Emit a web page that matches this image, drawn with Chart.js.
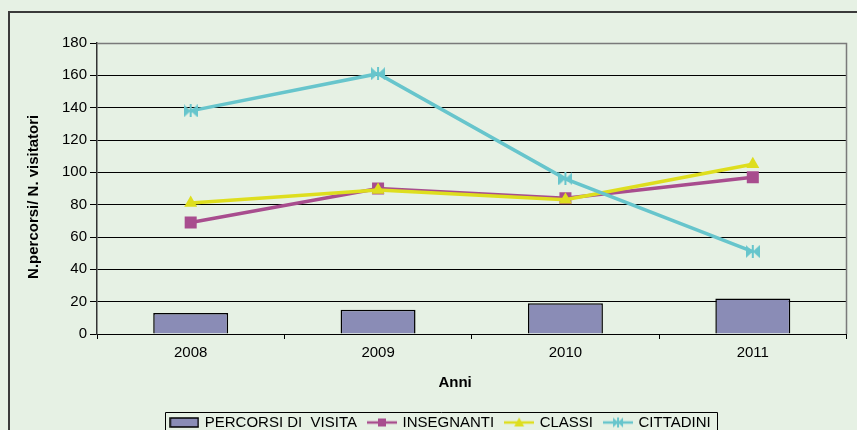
<!DOCTYPE html>
<html>
<head>
<meta charset="utf-8">
<script src="https://cdn.jsdelivr.net/npm/chart.js@4/dist/chart.umd.min.js"></script>
<style>
  html, body { margin: 0; padding: 0; background: #E6F1E4; }
  #wrap { position: relative; width: 857px; height: 430px; }
</style>
</head>
<body>
<div id="wrap"><canvas id="c" width="857" height="430"></canvas></div>
<script>
// ---- data ----
const categories = ['2008', '2009', '2010', '2011'];
const percorsiDiVisita = [13, 15, 19, 22];
const insegnanti = [69, 90, 84, 97];
const classi = [81, 89, 83, 105];
const cittadini = [138, 161, 96, 51];
const seriesLabels = ['PERCORSI DI  VISITA', 'INSEGNANTI', 'CLASSI', 'CITTADINI'];
const yTicks = [0, 20, 40, 60, 80, 100, 120, 140, 160, 180];
const yTitle = 'N.percorsi/ N. visitatori';
const xTitle = 'Anni';

// ---- styles ----
const BG = '#E6F1E4';
const C_BAR = '#8A8CB6';
const C_INS = '#A84D8E';
const C_CLA = '#DEDE1E';
const C_CIT = '#67C5CC';
const FONT = "'Liberation Sans', Arial, sans-serif";

function bowtie(color, w, h) {
  const c = document.createElement('canvas');
  c.width = w; c.height = h;
  const g = c.getContext('2d');
  g.fillStyle = color;
  g.beginPath(); g.moveTo(0, 0); g.lineTo(w / 2, h / 2); g.lineTo(0, h); g.closePath(); g.fill();
  g.beginPath(); g.moveTo(w, 0); g.lineTo(w / 2, h / 2); g.lineTo(w, h); g.closePath(); g.fill();
  g.fillRect(w / 2 - 1, 0, 2, h);
  return c;
}
function legendBar() {
  const c = document.createElement('canvas');
  c.width = 30; c.height = 11;
  const g = c.getContext('2d');
  g.fillStyle = C_BAR; g.fillRect(1, 1, 28, 9);
  g.strokeStyle = '#000'; g.lineWidth = 1.5; g.strokeRect(1, 1, 28, 9);
  return c;
}
function legendLine(color, marker) {
  const c = document.createElement('canvas');
  c.width = 30; c.height = 12;
  const g = c.getContext('2d');
  g.strokeStyle = color; g.fillStyle = color; g.lineWidth = 2.5;
  g.beginPath(); g.moveTo(0, 6); g.lineTo(30, 6); g.stroke();
  if (marker === 'rect') { g.fillRect(11, 2, 8, 8); }
  else if (marker === 'tri') { g.beginPath(); g.moveTo(15, 1); g.lineTo(20, 10); g.lineTo(10, 10); g.closePath(); g.fill(); }
  else { g.drawImage(bowtie(color, 10, 10), 10, 1); }
  return c;
}
const legendImgs = [legendBar(), legendLine(C_INS, 'rect'), legendLine(C_CLA, 'tri'), legendLine(C_CIT, 'bow')];

const framePlugin = {
  id: 'frame',
  beforeDraw(chart) {
    const ctx = chart.ctx;
    ctx.save();
    ctx.fillStyle = BG;
    ctx.fillRect(0, 0, chart.width, chart.height);
    ctx.strokeStyle = '#3a3a3a';
    ctx.lineWidth = 2;
    ctx.beginPath();
    ctx.moveTo(9, chart.height); ctx.lineTo(9, 12); ctx.lineTo(chart.width, 12);
    ctx.stroke();
    ctx.restore();
  },
  afterDatasetsDraw(chart) {
  },
  afterDraw(chart) {
    const ctx = chart.ctx, a = chart.chartArea;
    ctx.save();
    ctx.strokeStyle = '#7a7a7a';
    ctx.lineWidth = 1.5;
    ctx.beginPath();
    ctx.moveTo(a.left, a.top + 0.5); ctx.lineTo(a.right, a.top + 0.5); ctx.lineTo(a.right, a.bottom);
    ctx.stroke();
    // legend frame
    const hb = chart.legend.legendHitBoxes;
    if (hb && hb.length) {
      const first = hb[0], last = hb[hb.length - 1];
      const l = Math.round(first.left - 6) + 0.5;
      const r = Math.round(last.left + last.width + 6) + 0.5;
      const t = Math.round(first.top + first.height / 2 - 11) + 0.5;
      ctx.strokeStyle = '#000';
      ctx.lineWidth = 1;
      ctx.beginPath();
      ctx.moveTo(l, chart.height + 5); ctx.lineTo(l, t); ctx.lineTo(r, t); ctx.lineTo(r, chart.height + 5);
      ctx.stroke();
    }
    ctx.restore();
  }
};

new Chart(document.getElementById('c'), {
  type: 'bar',
  data: {
    labels: categories,
    datasets: [
      { type: 'bar', label: seriesLabels[0], data: percorsiDiVisita, backgroundColor: C_BAR,
        borderColor: '#000', borderWidth: 1.5, barPercentage: 0.4, categoryPercentage: 1, order: 4 },
      { type: 'line', label: seriesLabels[1], data: insegnanti, borderColor: C_INS, backgroundColor: C_INS,
        borderWidth: 3.5, pointStyle: 'rect', pointRadius: 8.5, pointBorderWidth: 0, tension: 0, order: 3 },
      { type: 'line', label: seriesLabels[2], data: classi, borderColor: C_CLA, backgroundColor: C_CLA,
        borderWidth: 3.5, pointStyle: 'triangle', pointRadius: 7.5, pointBorderWidth: 0, tension: 0, order: 2 },
      { type: 'line', label: seriesLabels[3], data: cittadini, borderColor: C_CIT, backgroundColor: C_CIT,
        borderWidth: 3.5, pointStyle: bowtie(C_CIT, 14, 13), pointRadius: 7, tension: 0, order: 1 }
    ]
  },
  options: {
    responsive: false,
    animation: false,
    events: [],
    layout: { padding: { left: 35, right: 10, top: 43, bottom: -10 } },
    scales: {
      x: {
        type: 'category',
        offset: true,
        grid: { offset: true, drawOnChartArea: false, drawTicks: true, tickLength: 5, color: '#000', tickColor: '#000' },
        border: { display: true, color: '#000', width: 1 },
        ticks: { color: '#000', font: { family: FONT, size: 15 }, padding: 5, maxRotation: 0 },
        title: { display: true, text: xTitle + '\u00a0\u00a0\u00a0\u00a0\u00a0\u00a0\u00a0\u00a0', color: '#000',
                 font: { family: FONT, size: 15, weight: 'bold' }, padding: { top: 0, bottom: 11 } },
        afterFit(scale) { scale.height = 69; }
      },
      y: {
        min: 0, max: 180,
        afterBuildTicks(scale) { scale.ticks = yTicks.map(v => ({ value: v })); },
        grid: { color: '#000', lineWidth: 1, tickLength: 7, tickColor: '#000' },
        border: { display: true, color: '#333', width: 1.5 },
        ticks: { color: '#000', font: { family: FONT, size: 15 }, padding: 3 },
        title: { display: true, text: yTitle + '\u00a0\u00a0\u00a0\u00a0', color: '#000',
                 font: { family: FONT, size: 15, weight: 'bold' }, padding: { top: -10, bottom: 0 } },
        afterFit(scale) { scale.width = 62; }
      }
    },
    plugins: {
      tooltip: { enabled: false },
      legend: {
        position: 'bottom',
        labels: {
          usePointStyle: true,
          pointStyleWidth: 26,
          padding: 12,
          color: '#000',
          font: { family: FONT, size: 15 },
          generateLabels(chart) {
            return chart.data.datasets.map((ds, i) => ({
              text: ds.label, pointStyle: legendImgs[i], datasetIndex: i, hidden: false,
              fillStyle: 'transparent', strokeStyle: 'transparent', lineWidth: 0, fontColor: '#000'
            }));
          }
        }
      }
    }
  },
  plugins: [framePlugin]
});
</script>
</body>
</html>
